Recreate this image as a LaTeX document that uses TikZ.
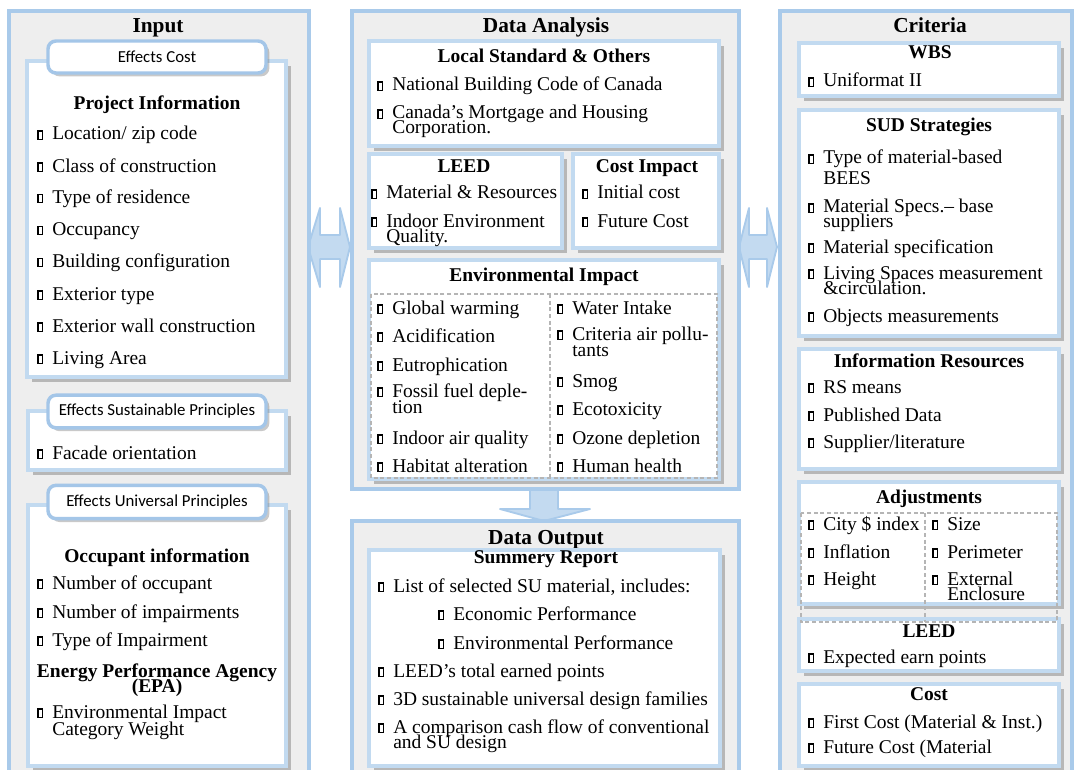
\documentclass[tikz,border=0pt]{standalone}
\usepackage{fontspec}
\setmainfont{Liberation Serif}
\newfontfamily\tabfont{Carlito}
\usetikzlibrary{shadows}

\definecolor{panelfill}{HTML}{EEEEEE}
\definecolor{panelline}{HTML}{A9CAEA}
\definecolor{boxline}{HTML}{C2DAF0}
\definecolor{tabline}{HTML}{A4C6E8}
\definecolor{arrowfill}{HTML}{C3DAF0}
\definecolor{dashgray}{HTML}{B5B5B5}

% hollow square bullet
\newcommand{\bsq}{\raisebox{1pt}{\setlength{\fboxsep}{0pt}\setlength{\fboxrule}{0.95pt}\fbox{\rule{0pt}{5.2pt}\hspace{2.6pt}}}}
% bulleted item, continuation line, heading
\newcommand{\itmx}[4]{\node[itm] (#1) at (#2,#3) {\llap{\bsq\hspace{6.6pt}}#4};}
\newcommand{\cntx}[4]{\node[itm] (#1) at (#2,#3) {#4};}
\newcommand{\hdx}[4]{\node[hd] (#1) at (#2,#3) {#4};}

\begin{document}
\begin{tikzpicture}[x=0.75pt,y=-0.75pt,
  panel/.style={draw=panelline,line width=3pt,fill=panelfill},
  box/.style={draw=boxline,line width=2.6pt,fill=white,
    drop shadow={shadow xshift=3.5pt,shadow yshift=-3.5pt,fill=black!60,opacity=0.4}},
  tab/.style={draw=tabline,line width=2.6pt,fill=white,rounded corners=6pt,inner sep=0pt,
    font=\tabfont\fontsize{12.6}{14}\selectfont,
    drop shadow={shadow xshift=2.5pt,shadow yshift=-2.5pt,fill=black!60,opacity=0.35}},
  itm/.style={anchor=base west,inner sep=0pt,font=\fontsize{14.6}{12}\selectfont},
  hd/.style={anchor=base,inner sep=0pt,font=\fontsize{14.6}{12}\selectfont\bfseries},
  ttl/.style={anchor=base,inner sep=0pt,font=\fontsize{16}{18}\selectfont\bfseries},
  dsh/.style={draw=dashgray,line width=0.8pt,dash pattern=on 3pt off 2pt},
  blockarrow/.style={fill=arrowfill,draw=panelline,line width=1.4pt,line join=round}]

\useasboundingbox (0,0) rectangle (1074,770);

% ---- block arrows between the panels ----
\path[blockarrow] (308,247) -- (320,208) -- (320,235) -- (340,235) -- (340,208) -- (350,247)
  -- (340,287) -- (340,259) -- (320,259) -- (320,287) -- cycle;
\path[blockarrow] (739,247) -- (749,208) -- (749,235) -- (767,235) -- (767,208) -- (777,247)
  -- (767,287) -- (767,259) -- (749,259) -- (749,287) -- cycle;
\path[blockarrow] (530,480) -- (530,509) -- (500,509) -- (544,521) -- (590,509) -- (558,509)
  -- (558,480) -- cycle;

% ---- panels ----
\path[panel] (9,11) rectangle (308.5,785);
\path[panel] (351.5,11) rectangle (738.5,489);
\path[panel] (351.5,521) rectangle (738.5,785);
\path[panel] (780,11) rectangle (1071.5,785);

\node[ttl] (tIn) at (158,33) {Input};
\node[ttl] (tDA) at (546,33) {Data Analysis};
\node[ttl] (tDO) at (546,544) {Data Output};
\node[ttl] (tCr) at (930,33) {Criteria};

% ---- Input column ----
\path[box] (27,61) rectangle (286,377);
\path[box] (28,411) rectangle (286,470);
\path[box] (28,505) rectangle (286,766);
\node[tab,minimum width=163.5pt,minimum height=24pt] (tabA) at (157,57) {Effects Cost};
\node[tab,minimum width=163.5pt,minimum height=24.5pt] (tabB) at (157,411.5) {Effects Sustainable Principles};
\node[tab,minimum width=163.5pt,minimum height=25pt] (tabC) at (157,502) {Effects Universal Principles};

\hdx{piT}{157}{110}{Project Information}
\itmx{p1}{52}{140}{Location/ zip code}
\itmx{p2}{52}{172}{Class of construction}
\itmx{p3}{52}{203.5}{Type of residence}
\itmx{p4}{52}{235.5}{Occupancy}
\itmx{p5}{52}{267.5}{Building configuration}
\itmx{p6}{52}{300}{Exterior type}
\itmx{p7}{52}{332}{Exterior wall construction}
\itmx{p8}{52}{364}{Living Area}

\itmx{s1}{52}{459}{Facade orientation}

\hdx{uT}{157}{562}{Occupant information}
\itmx{u1}{52}{589}{Number of occupant}
\itmx{u2}{52}{618}{Number of impairments}
\itmx{u3}{52}{646}{Type of Impairment}
\hdx{eT}{157}{677}{Energy Performance Agency}
\hdx{eTb}{157}{692}{(EPA)}
\itmx{u4}{52}{718}{Environmental Impact}
\cntx{u4b}{52}{735}{Category Weight}

% ---- Data Analysis column ----
\path[box] (369,41) rectangle (719,146);
\path[box] (369,154) rectangle (562,248);
\path[box] (573,154) rectangle (719,248);
\path[box] (369,260) rectangle (719,479);

\hdx{lsT}{544}{63}{Local Standard \& Others}
\itmx{l1}{392}{91}{National Building Code of Canada}
\itmx{l2}{392}{119}{Canada’s Mortgage and Housing}
\cntx{l2b}{392}{134}{Corporation.}

\hdx{ldT}{464}{172}{LEED}
\itmx{ld1}{386}{199}{Material \& Resources}
\itmx{ld2}{386}{227}{Indoor Environment}
\cntx{ld2b}{386}{242}{Quality.}

\hdx{ciT}{647}{172}{Cost Impact}
\itmx{c1}{597}{199}{Initial cost}
\itmx{c2}{597}{227}{Future Cost}

\hdx{eiT}{544}{281}{Environmental Impact}
\path[dsh] (371,294) rectangle (717,478);
\path[dsh] (550,294) -- (550,478);
\itmx{e1}{392}{314}{Global warming}
\itmx{e2}{392}{342}{Acidification}
\itmx{e3}{392}{371}{Eutrophication}
\itmx{e4}{392}{397}{Fossil fuel deple-}
\cntx{e4b}{392}{413}{tion}
\itmx{e5}{392}{444}{Indoor air quality}
\itmx{e6}{392}{472}{Habitat  alteration}
\itmx{r1}{572}{314}{Water Intake}
\itmx{r2}{572}{340}{Criteria air pollu-}
\cntx{r2b}{572}{356}{tants}
\itmx{r3}{572}{387}{Smog}
\itmx{r4}{572}{415}{Ecotoxicity}
\itmx{r5}{572}{444}{Ozone depletion}
\itmx{r6}{572}{472}{Human health}

% ---- Data Output column ----
\path[box] (369,550) rectangle (720,766);
\hdx{srT}{546}{563}{Summery Report}
\itmx{o1}{393}{592}{List of selected SU material, includes:}
\itmx{o2}{453}{620}{Economic Performance}
\itmx{o3}{453}{649}{Environmental Performance}
\itmx{o4}{393}{677}{LEED’s total earned points}
\itmx{o5}{393}{705}{3D sustainable universal design families}
\itmx{o6}{393}{733}{A comparison cash flow of conventional}
\cntx{o6b}{393}{748}{and SU design}

% ---- Criteria column ----
\path[box] (799,43) rectangle (1059,96);
\path[box] (799,110) rectangle (1059,336);
\path[box] (799,349) rectangle (1059,469);
\path[box] (799,482) rectangle (1059,604);
\path[box] (799,619) rectangle (1059,671);
\path[box] (799,684) rectangle (1059,766);

\hdx{wT}{930}{59}{WBS}
\itmx{w1}{823}{87}{Uniformat II}

\hdx{sT}{929}{132}{SUD Strategies}
\itmx{su1}{823}{164}{Type of material-based}
\cntx{su1b}{823}{185}{BEES}
\itmx{su2}{823}{213}{Material Specs.– base}
\cntx{su2b}{823}{228}{suppliers}
\itmx{su3}{823}{253}{Material specification}
\itmx{su4}{823}{279}{Living Spaces measurement}
\cntx{su4b}{823}{294}{\&circulation.}
\itmx{su5}{823}{322}{Objects measurements}

\hdx{irT}{929}{367}{Information Resources}
\itmx{ir1}{823}{393}{RS means}
\itmx{ir2}{823}{421}{Published Data}
\itmx{ir3}{823}{448}{Supplier/literature}

\hdx{adT}{929}{503}{Adjustments}
\path[dsh] (801,513) rectangle (1057,622);
\path[dsh] (925,513) -- (925,622);
\itmx{a1}{823}{530}{City \$ index}
\itmx{a2}{823}{558}{Inflation}
\itmx{a3}{823}{585}{Height}
\itmx{b1}{947}{530}{Size}
\itmx{b2}{947}{558}{Perimeter}
\itmx{b3}{947}{585}{External}
\cntx{b3b}{947}{600}{Enclosure}

\hdx{lcT}{929}{637}{LEED}
\itmx{lc1}{823}{663}{Expected earn points}

\hdx{ccT}{929}{700}{Cost}
\itmx{cc1}{823}{728}{First Cost (Material \& Inst.)}
\itmx{cc2}{823}{753}{Future Cost (Material}

\end{tikzpicture}
\end{document}
